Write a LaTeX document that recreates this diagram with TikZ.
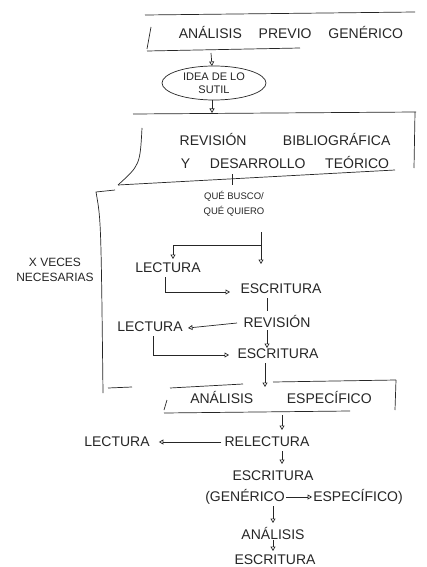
\documentclass[tikz,border=0pt]{standalone}
\usepackage{fontspec}
\setmainfont{Liberation Sans}
\usetikzlibrary{arrows.meta,shapes.geometric}
\begin{document}
\begin{tikzpicture}[x=1pt,y=-1pt,
  pen/.style={line width=0.7pt, draw=black!85},
  arr/.style={pen,-{Triangle[open,length=4.5pt,width=5pt]}},
  lbl/.style={font=\fontsize{14}{16}\selectfont, inner sep=1pt, text=black!85},
  small/.style={font=\fontsize{9.5}{11}\selectfont, inner sep=1pt, text=black!85}]
\useasboundingbox (0,0) rectangle (426,567);
\fill[white] (0,0) rectangle (426,567);

% top box
\node[lbl] (b1) at (291,32) {ANÁLISIS\hspace{1.2em}PREVIO\hspace{1.2em}GENÉRICO};
\draw[pen] (145,15) -- (415,12);
\draw[pen] (151,27) .. controls (149,38) .. (147,49);
\draw[pen] (147,51) -- (300,48);
\coordinate (b1s) at (211,53);

% ellipse
\node[small, font=\fontsize{11}{13}\selectfont, align=center] (idea) at (214,83) {IDEA DE LO\\SUTIL};
\draw[pen] (idea) ellipse [x radius=52, y radius=17];
\coordinate (ideaN) at (212,66);
\coordinate (ideaS) at (212,100);
\draw[arr] (b1s) -- (ideaN);

% box 2
\draw[pen] (133,114) -- (416,112);
\draw[pen] (415,112) -- (414,168);
\draw[pen] (142,128) .. controls (140,165) .. (118,185);
\draw[pen] (118,185) -- (395,170);
\node[lbl, align=center] (b2) at (285,151) {REVISIÓN\hspace{2.6em}BIBLIOGRÁFICA\\[7pt]Y\hspace{1.4em}DESARROLLO\hspace{1.4em}TEÓRICO};
\coordinate (b2N) at (212,113);
\coordinate (b2S) at (232,174);
\draw[arr] (ideaS) -- (b2N);

% que busco
\node[small, align=center] (qb) at (234,204) {QUÉ BUSCO/\\[4pt]QUÉ QUIERO};
\coordinate (qbN) at (232,185);
\draw[pen] (b2S) -- (qbN);

% loop
\coordinate (qbE) at (261,232);
\coordinate (loopJ) at (261,245);
\coordinate (esc1N) at (261,264);
\coordinate (lect1N) at (173,259);
\node[lbl] (lect1) at (168,268) {LECTURA};
\node[lbl] (esc1) at (281,289) {ESCRITURA};
\draw[arr] (qbE) -- (esc1N);
\draw[arr] (loopJ) -| (lect1N);
\coordinate (lect1S) at (165,277);
\coordinate (esc1W) at (230,292);
\draw[arr] (lect1S) |- (esc1W);

\node[lbl] (rev) at (277,321) {REVISIÓN};
\coordinate (esc1S) at (267,298);
\coordinate (revN) at (267,311);
\draw[pen] (esc1S) -- (revN);
\node[lbl] (lect2) at (150,327) {LECTURA};
\coordinate (revW) at (237,323);
\coordinate (lect2E) at (188,328);
\draw[arr] (revW) -- (lect2E);
\node[lbl] (esc2) at (278,354) {ESCRITURA};
\coordinate (revS) at (267,330);
\coordinate (esc2N) at (267,348);
\draw[arr] (revS) -- (esc2N);
\coordinate (lect2S) at (153,336);
\coordinate (esc2W) at (229,355);
\draw[arr] (lect2S) |- (esc2W);
\coordinate (esc2S) at (265,363);
\coordinate (b3N) at (265,387);
\draw[arr] (esc2S) -- (b3N);

% big bracket
\node[lbl, font=\fontsize{12}{15}\selectfont, align=center] (xv) at (55,270) {X VECES\\NECESARIAS};
\draw[pen] (115,190) -- (96,192) .. controls (101,220) .. (103,393);
\draw[pen] (108,388) -- (132,387);

% box 3
\draw[pen] (170,388) -- (243,384);
\draw[pen] (273,382) -- (396,380);
\draw[pen] (396,380) -- (395,410);
\draw[pen] (167,400) -- (164,410);
\draw[pen] (164,413) -- (350,411);
\node[lbl] (b3) at (281,397) {ANÁLISIS\hspace{2.4em}ESPECÍFICO};

\coordinate (b3S) at (282,415);
\coordinate (relN) at (282,430);
\draw[arr] (b3S) -- (relN);
\node[lbl] (relec) at (267,442) {RELECTURA};
\node[lbl] (lect3) at (117,442) {LECTURA};
\draw[arr, shorten <=2pt, shorten >=8pt] (relec.west) -- (lect3.east);
\coordinate (relS) at (282,451);
\coordinate (esc3N) at (282,464);
\draw[arr] (relS) -- (esc3N);
\node[lbl] (esc3) at (273,476) {ESCRITURA};
\node[lbl] (gen) at (245,497) {(GENÉRICO};
\node[lbl] (esp) at (358,497) {ESPECÍFICO)};
\draw[arr] (gen) -- (esp);
\coordinate (genS) at (273,506);
\coordinate (anaN) at (273,523);
\draw[arr] (genS) -- (anaN);
\node[lbl] (ana) at (273,533) {ANÁLISIS};
\coordinate (anaS) at (273,540);
\coordinate (esc4N) at (273,551);
\draw[arr] (anaS) -- (esc4N);
\node[lbl] (esc4) at (275,560) {ESCRITURA};
\end{tikzpicture}
\end{document}
